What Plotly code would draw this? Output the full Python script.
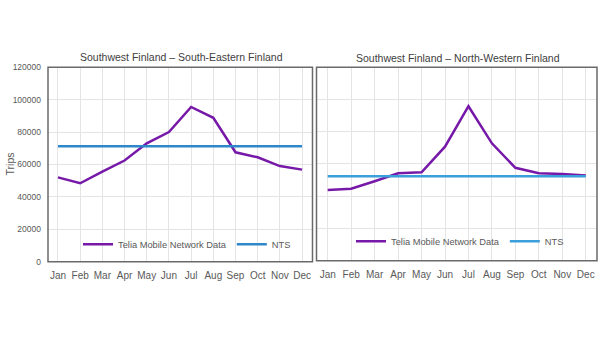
import plotly.graph_objects as go

months = ["Jan", "Feb", "Mar", "Apr", "May", "Jun", "Jul", "Aug", "Sep", "Oct", "Nov", "Dec"]
telia_se = [52000, 48400, 55500, 62400, 73000, 80000, 95500, 88800, 67500, 64400, 59000, 56800]
nts_se = [71200] * 12
telia_nw = [43800, 44600, 49300, 54200, 54800, 70700, 95800, 72800, 57600, 54200, 53800, 52800]
nts_nw = [52300] * 12
titles = ["Southwest Finland – South-Eastern Finland", "Southwest Finland – North-Western Finland"]
y_title = "Trips"

W, H = 600, 360
def fx(px): return px / W
def fy(py): return 1 - py / H

PURPLE = "#7719A8"
BLUE_L = "#2D87C8"
BLUE_R = "#3A9FDA"
TICK = "#595959"
GRID = "#E4E4E4"
FONT = "Liberation Sans, Arial, sans-serif"

fig = go.Figure()
fig.add_trace(go.Scatter(x=months, y=telia_se, mode="lines", name="Telia Mobile Network Data",
                         line=dict(color=PURPLE, width=2.5), xaxis="x", yaxis="y", legend="legend"))
fig.add_trace(go.Scatter(x=months, y=nts_se, mode="lines", name="NTS",
                         line=dict(color=BLUE_L, width=2.5), xaxis="x", yaxis="y", legend="legend"))
fig.add_trace(go.Scatter(x=months, y=telia_nw, mode="lines", name="Telia Mobile Network Data",
                         line=dict(color=PURPLE, width=2.5), xaxis="x2", yaxis="y2", legend="legend2"))
fig.add_trace(go.Scatter(x=months, y=nts_nw, mode="lines", name="NTS",
                         line=dict(color=BLUE_R, width=2.5), xaxis="x2", yaxis="y2", legend="legend2"))

L = dict(x0=48, x1=312.5, y0=64, y1=264)
R = dict(x0=316.5, x1=597, y0=64, y1=263)

xcommon = dict(showgrid=True, gridcolor=GRID, gridwidth=1, zeroline=False, showline=False,
               tickfont=dict(size=10, color=TICK, family=FONT), ticks="", fixedrange=True,
               ticklabelstandoff=6)
ycommon = dict(showgrid=True, gridcolor=GRID, gridwidth=1, zeroline=False, showline=False,
               range=[0, 120000], dtick=20000, ticks="", fixedrange=True, tickformat="d")

fig.update_layout(
    width=W, height=H, margin=dict(l=0, r=0, t=0, b=0),
    paper_bgcolor="white", plot_bgcolor="white",
    font=dict(family=FONT, color=TICK),
    xaxis=dict(domain=[fx(L["x0"]), fx(L["x1"])], range=[-0.45, 11.47], anchor="y", **xcommon),
    yaxis=dict(domain=[fy(L["y1"]), fy(L["y0"])], anchor="x",
               tickfont=dict(size=8.5, color=TICK, family=FONT), ticklabelstandoff=6, **ycommon),
    xaxis2=dict(domain=[fx(R["x0"]), fx(R["x1"])], range=[-0.478, 11.48], anchor="y2", **xcommon),
    yaxis2=dict(domain=[fy(R["y1"]), fy(R["y0"])], anchor="x2", showticklabels=False, **ycommon),
    legend=dict(orientation="h", x=fx(187), y=fy(246), xanchor="center", yanchor="middle",
                bgcolor="rgba(0,0,0,0)", font=dict(size=9.3, color=TICK, family=FONT),
                itemwidth=30, tracegroupgap=0),
    legend2=dict(orientation="h", x=fx(460), y=fy(243), xanchor="center", yanchor="middle",
                 bgcolor="rgba(0,0,0,0)", font=dict(size=9.3, color=TICK, family=FONT),
                 itemwidth=30, tracegroupgap=0),
    showlegend=True,
)

for box in (L, R):
    fig.add_shape(type="rect", xref="paper", yref="paper",
                  x0=fx(box["x0"]), x1=fx(box["x1"]), y0=fy(box["y1"]), y1=fy(box["y0"]),
                  line=dict(color="#6A6A6A", width=1.5), fillcolor="rgba(0,0,0,0)", layer="above")

fig.add_annotation(text=titles[0], xref="paper", yref="paper", x=fx(181), y=fy(53),
                   xanchor="center", yanchor="middle", showarrow=False,
                   font=dict(size=10.5, color="#404040", family=FONT))
fig.add_annotation(text=titles[1], xref="paper", yref="paper", x=fx(458), y=fy(54),
                   xanchor="center", yanchor="middle", showarrow=False,
                   font=dict(size=10.5, color="#404040", family=FONT))
fig.add_annotation(text=y_title, xref="paper", yref="paper", x=fx(10), y=fy(164),
                   xanchor="center", yanchor="middle", showarrow=False, textangle=-90,
                   font=dict(size=10.5, color=TICK, family=FONT))

fig.write_html("out.html", config={"displayModeBar": False},
               post_script="document.body.style.margin='0';document.body.style.overflow='hidden';")
